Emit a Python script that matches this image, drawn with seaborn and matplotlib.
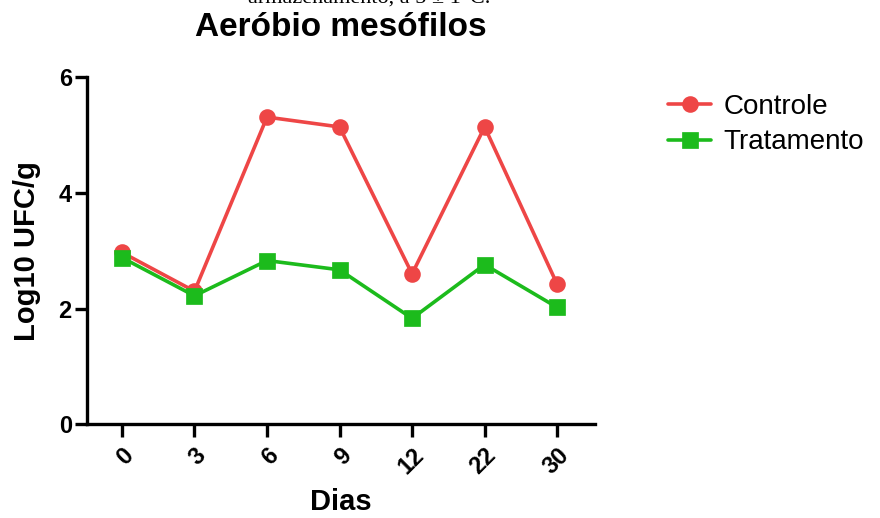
import matplotlib
matplotlib.use("Agg")
import matplotlib.pyplot as plt
import seaborn as sns
import pandas as pd

dias = ["0", "3", "6", "9", "12", "22", "30"]
controle = [2.97, 2.30, 5.31, 5.14, 2.60, 5.14, 2.42]
tratamento = [2.88, 2.22, 2.83, 2.67, 1.83, 2.76, 2.02]
grupos = ["Controle", "Tratamento"]
cores = ["#EE4646", "#1CBB1C"]

df = pd.DataFrame({
    "Dias": dias * 2,
    "valor": controle + tratamento,
    "grupo": [grupos[0]] * len(dias) + [grupos[1]] * len(dias),
})

sns.set_style("ticks")
plt.rcParams["font.family"] = ["Liberation Sans", "DejaVu Sans"]
plt.rcParams["text.color"] = "black"
plt.rcParams["axes.labelcolor"] = "black"
plt.rcParams["xtick.color"] = "black"
plt.rcParams["ytick.color"] = "black"

fig = plt.figure(figsize=(8.8, 5.18), dpi=100)
ax = fig.add_axes([0.099, 0.181, 0.577, 0.670])

sns.pointplot(data=df, x="Dias", y="valor", hue="grupo", order=dias,
              palette=cores, markers=["o", "s"], linestyles=["-", "-"],
              ax=ax, markersize=10, linewidth=2.6)

ax.set_xlim(-0.48, 6.52)
ax.set_ylim(0, 6)
ax.set_yticks([0, 2, 4, 6])
for s in ["top", "right"]:
    ax.spines[s].set_visible(False)
for s in ["left", "bottom"]:
    ax.spines[s].set_linewidth(2.4)
    ax.spines[s].set_color("black")
ax.tick_params(axis="both", width=2.4, length=9, color="black")
ax.tick_params(axis="x", pad=5)
ax.tick_params(axis="y", pad=2)
for lab in ax.get_xticklabels():
    lab.set_rotation(45)
    lab.set_ha("right")
    lab.set_rotation_mode("anchor")
    lab.set_fontsize(17)
    lab.set_fontweight("bold")
for lab in ax.get_yticklabels():
    lab.set_fontsize(17)
    lab.set_fontweight("bold")

ax.set_xlabel("Dias", fontsize=21, fontweight="bold", labelpad=7)
ax.set_ylabel("Log10 UFC/g", fontsize=21, fontweight="bold", labelpad=13)
ax.set_title("Aeróbio mesófilos", fontsize=24, fontweight="bold", pad=30)

leg = ax.legend(loc="upper left", bbox_to_anchor=(1.095, 1.025), frameon=False,
                fontsize=20, handlelength=1.55, handletextpad=0.45,
                labelspacing=0.35)

fig.text(0.42, 1 - 4 / 518, "armazenamento, a 5 ± 1°C.", ha="center",
         va="baseline", fontsize=16, family=["Liberation Serif", "DejaVu Serif"])

fig.savefig("out.png", dpi=100)
